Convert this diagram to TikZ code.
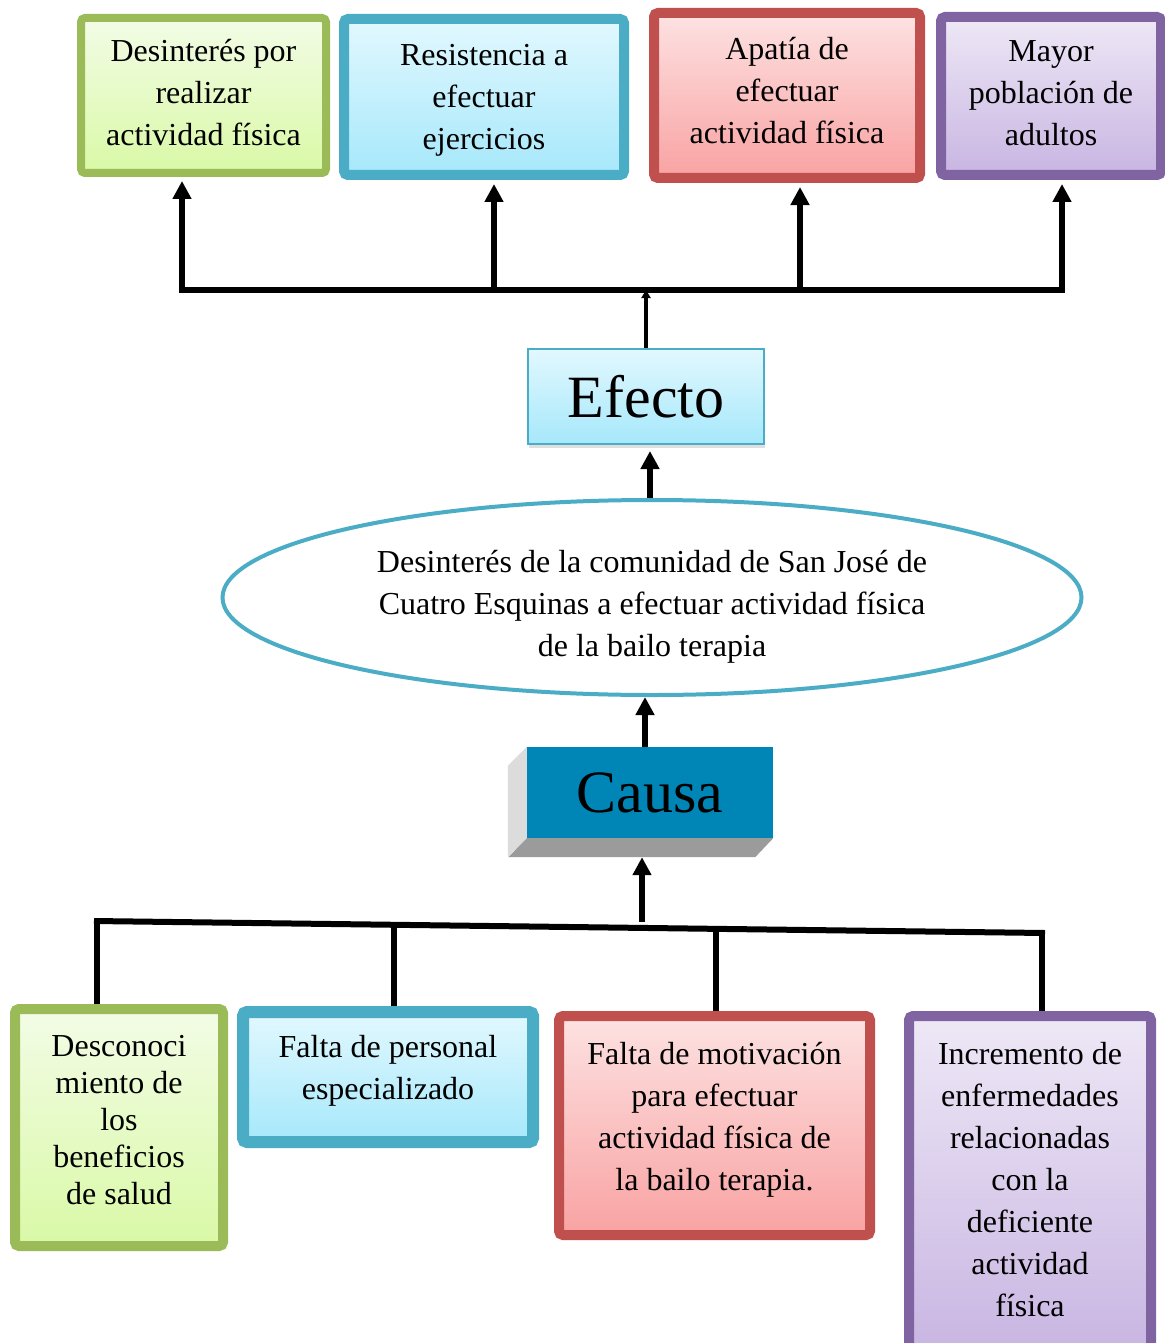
\documentclass[tikz,border=0pt]{standalone}
\usepackage{fontspec}
\setmainfont{Liberation Serif}
\usetikzlibrary{arrows.meta, shapes.geometric, shadows, calc}

\definecolor{vborde}{HTML}{9BBB59}
\definecolor{varriba}{HTML}{F3FCE6}
\definecolor{vabajo}{HTML}{D9F9A6}
\definecolor{aborde}{HTML}{4BACC6}
\definecolor{aarriba}{HTML}{E2F8FE}
\definecolor{aabajo}{HTML}{A6E8FB}
\definecolor{rborde}{HTML}{C0504D}
\definecolor{rarriba}{HTML}{FDE2E2}
\definecolor{rabajo}{HTML}{F9A2A2}
\definecolor{mborde}{HTML}{8064A2}
\definecolor{marriba}{HTML}{EEE8F6}
\definecolor{mabajo}{HTML}{C8B5E2}
\definecolor{causaazul}{HTML}{0086B6}
\definecolor{ladoclaro}{HTML}{DCDCDC}
\definecolor{ladoosc}{HTML}{9B9B9B}

\tikzset{
  caja/.style={draw, rounded corners=4pt, inner sep=0pt, align=center,
    font=\fontsize{32}{42}\selectfont,
    drop shadow={shadow xshift=1pt, shadow yshift=-4pt, opacity=0.25}},
  verde/.style={caja, line width=8pt, draw=vborde, top color=varriba, bottom color=vabajo},
  azul/.style={caja, line width=10pt, draw=aborde, top color=aarriba, bottom color=aabajo},
  rojo/.style={caja, line width=10pt, draw=rborde, top color=rarriba, bottom color=rabajo},
  morado/.style={caja, line width=10pt, draw=mborde, top color=marriba, bottom color=mabajo},
  sube/.style={text depth=#1},
  baja/.style={text height=#1},
  barra/.style={line width=6pt},
  flecha/.style={line width=6pt, -{Triangle[width=18pt,length=18pt]}},
  flechita/.style={line width=4pt, -{Triangle[width=9pt,length=8pt]}},
}

\begin{document}
\begin{tikzpicture}[x=1pt, y=-1pt]
        \useasboundingbox (0,0) rectangle (1164,1343);
        \node[verde, sube=6pt, minimum width=245, minimum height=155] (e1) at (203.5,95.5) {Desinterés por\\realizar\\actividad física};
        \node[azul, baja=112pt, minimum width=280, minimum height=156] (e2) at (484,97) {Resistencia a\\efectuar\\ejercicios};
        \node[rojo, sube=11pt, minimum width=266, minimum height=165] (e3) at (787,95.5) {Apatía de\\efectuar\\actividad física};
        \node[morado, sube=5pt, minimum width=220, minimum height=158] (e4) at (1051,96) {Mayor\\población de\\adultos};
        \coordinate (t1) at (182,290);
        \coordinate (t2) at (494,290);
        \coordinate (t3) at (800,290);
        \coordinate (t4) at (1062,290);
        \draw[barra] ([xshift=-3pt]t1) -- ([xshift=3pt]t4);
        \foreach \i in {1,...,4}
            \draw[flecha, shorten >=4pt] (t\i) -- (t\i |- e\i.south);
        \node[caja, line width=2pt, draw=aborde, top color=aarriba, bottom color=aabajo,
              rounded corners=0pt, minimum width=236, minimum height=95,
              font=\fontsize{60}{70}\selectfont] (efecto) at (646,396.5) {Efecto};
        \draw[flechita] (efecto.north) -- (efecto.north |- t1);
        \node[ellipse, draw=aborde, line width=4pt, fill=white, inner sep=0pt,
              minimum width=859, minimum height=195, align=center, baja=125pt,
              font=\fontsize{32}{42}\selectfont] (prob) at (652,597.5)
              {Desinterés de la comunidad de San José de\\Cuatro Esquinas a efectuar actividad física\\de la bailo terapia};
        \draw[flecha, shorten >=6pt] ([xshift=-2pt]prob.north) -- ([xshift=-2pt]prob.north |- efecto.south);
        \node[fill=causaazul, inner sep=0pt, minimum width=246, minimum height=91,
              font=\fontsize{60}{70}\selectfont] (causa) at (650,792.5) {Causa};
        \fill[ladoclaro] (causa.north west) -- ++(-19,19) -- ++(0,91) -- (causa.south west) -- cycle;
        \fill[ladoosc] (causa.south west) -- (causa.south east) -- ++(-18,19) -- ++(-247,0) -- cycle;
        \draw[flecha] ([xshift=-5pt]causa.north) -- ([xshift=-5pt]causa.north |- prob.south);
        \node[verde, line width=10pt, sube=16pt, minimum width=208, minimum height=237,
              font=\fontsize{32}{37}\selectfont] (c1) at (119,1127.5) {Desconoci\\miento de\\los\\beneficios\\de salud};
        \node[azul, line width=12pt, sube=19pt, minimum width=290, minimum height=130] (c2) at (388,1077) {Falta de personal\\especializado};
        \node[rojo, sube=19pt, minimum width=311, minimum height=219] (c3) at (714.5,1125.5) {Falta de motivación\\para efectuar\\actividad física de\\la bailo terapia.};
        \node[morado, sube=13pt, minimum width=242, minimum height=339] (c4) at (1030,1185.5) {Incremento de\\enfermedades\\relacionadas\\con la\\deficiente\\actividad\\física};
        \coordinate (b1) at (97,921);
        \coordinate (b2) at (394,924.8);
        \coordinate (b3) at (716,928.9);
        \coordinate (b4) at (1042,933);
        \coordinate (b0) at (642,922);
        \draw[barra] ([xshift=-3pt]b1) -- ([xshift=3pt]b4);
        \foreach \i in {1,...,4}
            \draw[barra] (b\i) -- (b\i |- c\i.north);
        \draw[flecha] (b0) -- ($(b0 |- causa.south)+(0,19)$);
    \end{tikzpicture}
\end{document}
